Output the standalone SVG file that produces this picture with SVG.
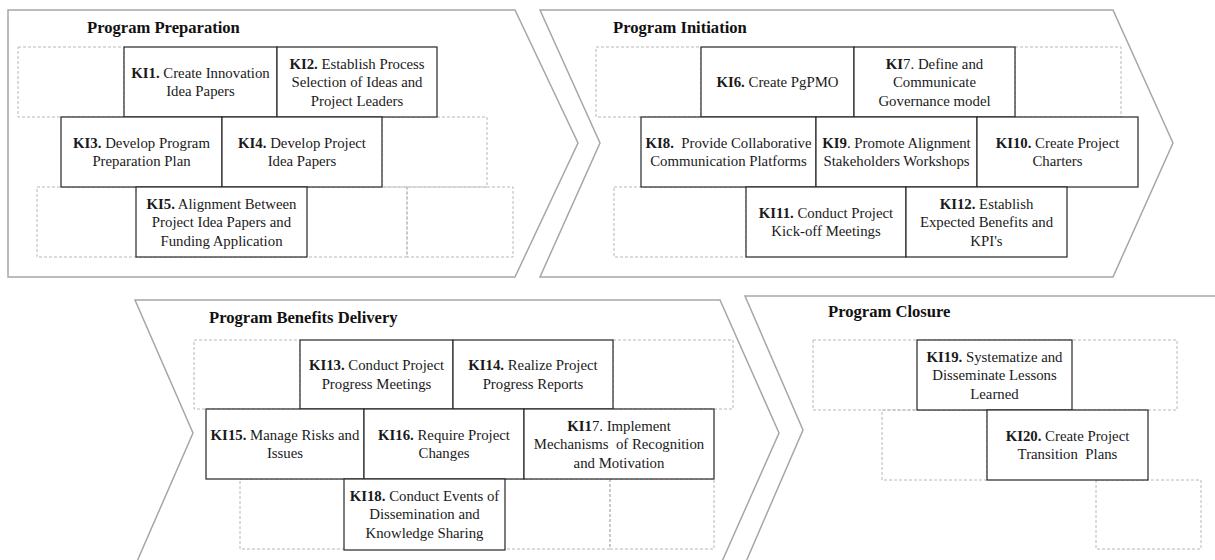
<svg xmlns="http://www.w3.org/2000/svg" width="1215" height="560" viewBox="0 0 1215 560">
<style>
.chev{fill:#fff;stroke:#a6a6a6;stroke-width:1.5}
.slot{fill:none;stroke:#b8b8b8;stroke-width:1;stroke-dasharray:3 2}
.box{fill:#fff;stroke:#262626;stroke-width:1.2}
.t{font-family:"Liberation Serif","Times New Roman",serif;font-size:14.8px;fill:#1a1a1a;text-anchor:middle}
.h{font-family:"Liberation Serif","Times New Roman",serif;font-size:16.6px;font-weight:bold;fill:#111}
.b{font-weight:bold}
</style>
<rect width="1215" height="560" fill="#fff"/>
<g id="stages">
<g id="stage-preparation">
<polygon class="chev" points="8,10 515,10 578,143 515,277 8,277"/>
<text class="h" x="87" y="33">Program Preparation</text>
<rect class="slot" x="18" y="47" width="106" height="70"/>
<rect class="slot" x="382" y="117" width="105" height="70"/>
<rect class="slot" x="37" y="187" width="370" height="70"/>
<rect class="slot" x="407" y="187" width="106" height="70"/>
</g>
<g id="stage-initiation">
<polygon class="chev" points="540,10 1113,10 1173,143 1113,277 540,277 600,143"/>
<text class="h" x="613" y="33">Program Initiation</text>
<rect class="slot" x="596" y="47" width="105" height="70"/>
<rect class="slot" x="1015" y="47" width="106" height="70"/>
<rect class="slot" x="614" y="187" width="132" height="70"/>
</g>
<g id="stage-delivery">
<polygon class="chev" points="135,300 720,300 779,433 720,566 135,566 193,433"/>
<text class="h" x="209" y="323">Program Benefits Delivery</text>
<rect class="slot" x="194" y="340" width="106" height="69"/>
<rect class="slot" x="613" y="340" width="120" height="69"/>
<rect class="slot" x="240" y="479" width="370" height="70"/>
<rect class="slot" x="610" y="479" width="104" height="70"/>
</g>
<g id="stage-closure">
<polygon class="chev" points="745,296 1222,296 1222,564 745,564 803,430"/>
<text class="h" x="828" y="317">Program Closure</text>
<rect class="slot" x="813" y="340" width="364" height="70"/>
<rect class="slot" x="882" y="410" width="105" height="70"/>
<rect class="slot" x="1096" y="480" width="105" height="69"/>
</g>
</g>
<g id="connectors"></g>
<g id="KI1"><rect class="box" x="124" y="47" width="153" height="70"/>
<text class="t" x="200.5" y="77.75"><tspan class="b">KI1.</tspan> Create Innovation</text>
<text class="t" x="200.5" y="96.25">Idea Papers</text></g>
<g id="KI2"><rect class="box" x="277" y="47" width="160" height="70"/>
<text class="t" x="357" y="68.5"><tspan class="b">KI2.</tspan> Establish Process</text>
<text class="t" x="357" y="87">Selection of Ideas and</text>
<text class="t" x="357" y="105.5">Project Leaders</text></g>
<g id="KI3"><rect class="box" x="61" y="117" width="161" height="70"/>
<text class="t" x="141.5" y="147.75"><tspan class="b">KI3.</tspan> Develop Program</text>
<text class="t" x="141.5" y="166.25">Preparation Plan</text></g>
<g id="KI4"><rect class="box" x="222" y="117" width="160" height="70"/>
<text class="t" x="302" y="147.75"><tspan class="b">KI4.</tspan> Develop Project</text>
<text class="t" x="302" y="166.25">Idea Papers</text></g>
<g id="KI5"><rect class="box" x="136" y="187" width="171" height="70"/>
<text class="t" x="221.5" y="208.5"><tspan class="b">KI5.</tspan> Alignment Between</text>
<text class="t" x="221.5" y="227">Project Idea Papers and</text>
<text class="t" x="221.5" y="245.5">Funding Application</text></g>
<g id="KI6"><rect class="box" x="701" y="47" width="153" height="70"/>
<text class="t" x="777.5" y="87"><tspan class="b">KI6.</tspan> Create PgPMO</text></g>
<g id="KI7"><rect class="box" x="854" y="47" width="161" height="70"/>
<text class="t" x="934.5" y="68.5"><tspan class="b">KI</tspan>7. Define and</text>
<text class="t" x="934.5" y="87">Communicate</text>
<text class="t" x="934.5" y="105.5">Governance model</text></g>
<g id="KI8"><rect class="box" x="641" y="117" width="175" height="70"/>
<text class="t" x="728.5" y="147.75" xml:space="preserve"><tspan class="b">KI8.</tspan>  Provide Collaborative</text>
<text class="t" x="728.5" y="166.25">Communication Platforms</text></g>
<g id="KI9"><rect class="box" x="816" y="117" width="161" height="70"/>
<text class="t" x="896.5" y="147.75"><tspan class="b">KI9</tspan>. Promote Alignment</text>
<text class="t" x="896.5" y="166.25">Stakeholders Workshops</text></g>
<g id="KI10"><rect class="box" x="977" y="117" width="161" height="70"/>
<text class="t" x="1057.5" y="147.75"><tspan class="b">KI10.</tspan> Create Project</text>
<text class="t" x="1057.5" y="166.25">Charters</text></g>
<g id="KI11"><rect class="box" x="746" y="187" width="160" height="70"/>
<text class="t" x="826" y="217.75"><tspan class="b">KI11.</tspan> Conduct Project</text>
<text class="t" x="826" y="236.25">Kick-off Meetings</text></g>
<g id="KI12"><rect class="box" x="906" y="187" width="161" height="70"/>
<text class="t" x="986.5" y="208.5"><tspan class="b">KI12.</tspan> Establish</text>
<text class="t" x="986.5" y="227">Expected Benefits and</text>
<text class="t" x="986.5" y="245.5">KPI's</text></g>
<g id="KI13"><rect class="box" x="300" y="340" width="153" height="69"/>
<text class="t" x="376.5" y="370.25"><tspan class="b">KI13.</tspan> Conduct Project</text>
<text class="t" x="376.5" y="388.75">Progress Meetings</text></g>
<g id="KI14"><rect class="box" x="453" y="340" width="160" height="69"/>
<text class="t" x="533" y="370.25"><tspan class="b">KI14.</tspan> Realize Project</text>
<text class="t" x="533" y="388.75">Progress Reports</text></g>
<g id="KI15"><rect class="box" x="206" y="409" width="158" height="70"/>
<text class="t" x="285" y="439.75"><tspan class="b">KI15.</tspan> Manage Risks and</text>
<text class="t" x="285" y="458.25">Issues</text></g>
<g id="KI16"><rect class="box" x="364" y="409" width="160" height="70"/>
<text class="t" x="444" y="439.75"><tspan class="b">KI16.</tspan> Require Project</text>
<text class="t" x="444" y="458.25">Changes</text></g>
<g id="KI17"><rect class="box" x="524" y="409" width="190" height="70"/>
<text class="t" x="619" y="430.5"><tspan class="b">KI1</tspan>7. Implement</text>
<text class="t" x="619" y="449" xml:space="preserve">Mechanisms  of Recognition</text>
<text class="t" x="619" y="467.5">and Motivation</text></g>
<g id="KI18"><rect class="box" x="344" y="479" width="161" height="71"/>
<text class="t" x="424.5" y="500.5"><tspan class="b">KI18.</tspan> Conduct Events of</text>
<text class="t" x="424.5" y="519">Dissemination and</text>
<text class="t" x="424.5" y="537.5">Knowledge Sharing</text></g>
<g id="KI19"><rect class="box" x="917" y="340" width="155" height="70"/>
<text class="t" x="994.5" y="361.5"><tspan class="b">KI19.</tspan> Systematize and</text>
<text class="t" x="994.5" y="380">Disseminate Lessons</text>
<text class="t" x="994.5" y="398.5">Learned</text></g>
<g id="KI20"><rect class="box" x="987" y="410" width="161" height="70"/>
<text class="t" x="1067.5" y="440.75"><tspan class="b">KI20.</tspan> Create Project</text>
<text class="t" x="1067.5" y="459.25" xml:space="preserve">Transition  Plans</text></g>
</svg>
